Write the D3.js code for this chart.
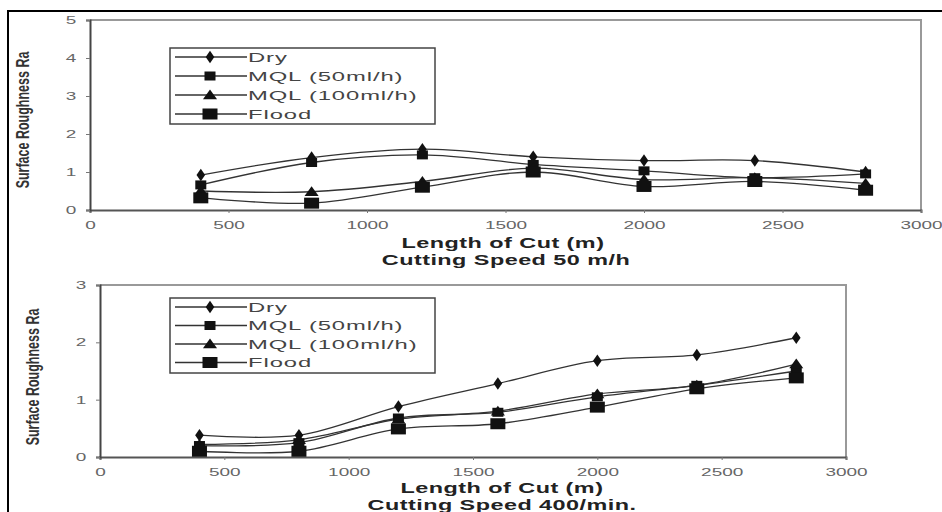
<!DOCTYPE html>
<html>
<head>
<meta charset="utf-8">
<script src="https://cdn.jsdelivr.net/npm/d3@7"></script>
<style>
  body { margin: 0; background: #fff; }
  svg { display: block; font-family: "Liberation Sans", Arial, sans-serif; }
  .tick text { fill: #666; font-size: 11px; }
</style>
</head>
<body>
<svg width="942" height="512"></svg>
<script>
var svg = d3.select("svg");

// data
var cutLength = [400, 800, 1200, 1600, 2000, 2400, 2800];
var seriesNames = ["Dry", "MQL (50ml/h)", "MQL (100ml/h)", "Flood"];
var markers = ["diamond", "square", "triangle", "flood"];

var top_dry    = [0.92, 1.38, 1.6, 1.4, 1.3, 1.3, 1.0];
var top_mql50  = [0.66, 1.25, 1.45, 1.2, 1.03, 0.85, 0.95];
var top_mql100 = [0.5, 0.48, 0.75, 1.1, 0.8, 0.85, 0.7];
var top_flood  = [0.32, 0.18, 0.6, 1.0, 0.62, 0.75, 0.52];

var bot_dry    = [0.38, 0.38, 0.88, 1.28, 1.68, 1.78, 2.08];
var bot_mql50  = [0.2, 0.25, 0.68, 0.78, 1.05, 1.25, 1.5];
var bot_mql100 = [0.22, 0.3, 0.66, 0.8, 1.1, 1.25, 1.62];
var bot_flood  = [0.1, 0.1, 0.49, 0.58, 0.87, 1.19, 1.38];

var xTicks = [0, 500, 1000, 1500, 2000, 2500, 3000];

// the scanned figure is stretched sideways, so text is widened
var stretch = 1.5;

// outer frame
svg.append("path")
    .attr("d", "M8,512V11H942")
    .attr("fill", "none")
    .attr("stroke", "#000")
    .attr("stroke-width", 2);

function marker(g, type, x, y) {
  if (type == "diamond") {
    g.append("path").attr("d", d3.symbol(d3.symbolDiamond, 45)()).attr("transform", "translate(" + x + "," + y + ") scale(1.2,1)");
  } else if (type == "square") {
    g.append("rect").attr("x", x - 5.5).attr("y", y - 4.5).attr("width", 11).attr("height", 9);
  } else if (type == "triangle") {
    g.append("path").attr("d", d3.symbol(d3.symbolTriangle, 55)()).attr("transform", "translate(" + x + "," + (y + 1) + ") scale(1.25,1)");
  } else {
    g.append("rect").attr("x", x - 7.5).attr("y", y - 5.5).attr("width", 15).attr("height", 11);
  }
}

function drawChart(o) {
  var x = d3.scaleLinear().domain([0, 3000]).range([o.left, o.right]);
  var y = d3.scaleLinear().domain([0, o.ymax]).range([o.bottom, o.top]);
  var g = svg.append("g");

  // top / right frame
  g.append("path")
      .attr("d", "M" + o.left + "," + o.top + "H" + o.right + "V" + o.bottom)
      .attr("fill", "none")
      .attr("stroke", "#999")
      .attr("stroke-width", 2);

  var xa = g.append("g")
      .attr("transform", "translate(0," + o.bottom + ")")
      .call(d3.axisBottom(x).tickValues(xTicks).tickFormat(d3.format("d")).tickSize(3).tickPadding(8));
  xa.select(".domain").attr("stroke", "#555").attr("stroke-width", 2);
  xa.selectAll(".tick line").attr("stroke", "#777");
  xa.selectAll(".tick text").attr("transform", "scale(" + (stretch * 1.15) + ",1)");

  var ya = g.append("g")
      .attr("transform", "translate(" + o.left + ",0)")
      .call(d3.axisLeft(y).ticks(o.ymax).tickFormat(d3.format("d")).tickSize(4));
  ya.select(".domain").attr("stroke", "#444").attr("stroke-width", 2);
  ya.selectAll(".tick line").attr("stroke", "#777");
  ya.selectAll(".tick text").attr("x", -8).attr("transform", "scale(" + (stretch * 1.15) + ",1)");

  var line = d3.line()
      .x(function(d, i) { return x(cutLength[i]); })
      .y(function(d) { return y(d); })
      .curve(d3.curveCatmullRom.alpha(0.5));

  o.series.forEach(function(s, k) {
    g.append("path")
        .attr("d", line(s))
        .attr("fill", "none")
        .attr("stroke", "#333")
        .attr("stroke-width", 1.3);
  });
  o.series.forEach(function(s, k) {
    var mg = g.append("g").attr("fill", "#111");
    s.forEach(function(v, i) { marker(mg, markers[k], x(cutLength[i]), y(v)); });
  });

  // legend
  var lg = g.append("g");
  lg.append("rect")
      .attr("x", o.legX).attr("y", o.legY)
      .attr("width", 265).attr("height", o.legH)
      .attr("fill", "#fff").attr("stroke", "#444").attr("stroke-width", 1.5);
  seriesNames.forEach(function(n, k) {
    var yy = o.legY + 9 + k * o.legStep;
    lg.append("line")
        .attr("x1", o.legX + 5).attr("x2", o.legX + 77)
        .attr("y1", yy).attr("y2", yy)
        .attr("stroke", "#333").attr("stroke-width", 1.3);
    var mg = lg.append("g").attr("fill", "#111");
    marker(mg, markers[k], o.legX + 40, yy);
    lg.append("text")
        .attr("transform", "translate(" + (o.legX + 78) + "," + (yy + 4.5) + ") scale(" + (stretch * 1.22) + ",1)")
        .attr("font-size", 13).attr("fill", "#444")
        .attr("letter-spacing", 0.5)
        .text(n);
  });

  // axis titles
  g.append("text")
      .attr("transform", "translate(" + o.titleX + "," + o.titleY + ") scale(" + (stretch * 1.04) + ",1)")
      .attr("text-anchor", "middle")
      .attr("font-weight", "bold").attr("font-size", 15).attr("fill", "#222")
      .attr("letter-spacing", 0.3)
      .text("Length of Cut (m)");
  g.append("text")
      .attr("transform", "translate(" + (o.titleX + o.subDx) + "," + (o.titleY + o.subGap) + ") scale(" + (stretch * 1.04) + ",1)")
      .attr("text-anchor", "middle")
      .attr("font-weight", "bold").attr("font-size", 15).attr("fill", "#222")
      .attr("letter-spacing", 0.3)
      .text(o.subtitle);
  g.append("text")
      .attr("transform", "translate(" + o.ylabX + "," + o.ylabY + ") rotate(-90) scale(1," + stretch + ")")
      .attr("text-anchor", "middle")
      .attr("font-size", 12.5).attr("font-weight", "bold").attr("fill", "#333")
      .attr("dy", "0.35em")
      .text("Surface Roughness Ra");
}

drawChart({
  left: 90, right: 921, top: 20, bottom: 210, ymax: 5,
  series: [top_dry, top_mql50, top_mql100, top_flood],
  legX: 170, legY: 48, legH: 76, legStep: 19,
  titleX: 503, titleY: 248, subDx: 3, subGap: 17, subtitle: "Cutting Speed 50 m/h",
  ylabX: 22, ylabY: 120
});

drawChart({
  left: 100, right: 846, top: 285, bottom: 457, ymax: 3,
  series: [bot_dry, bot_mql50, bot_mql100, bot_flood],
  legX: 170, legY: 298, legH: 75, legStep: 18.5,
  titleX: 502, titleY: 493, subDx: 0, subGap: 16.5, subtitle: "Cutting Speed 400/min.",
  ylabX: 32, ylabY: 377
});
</script>
</body>
</html>
